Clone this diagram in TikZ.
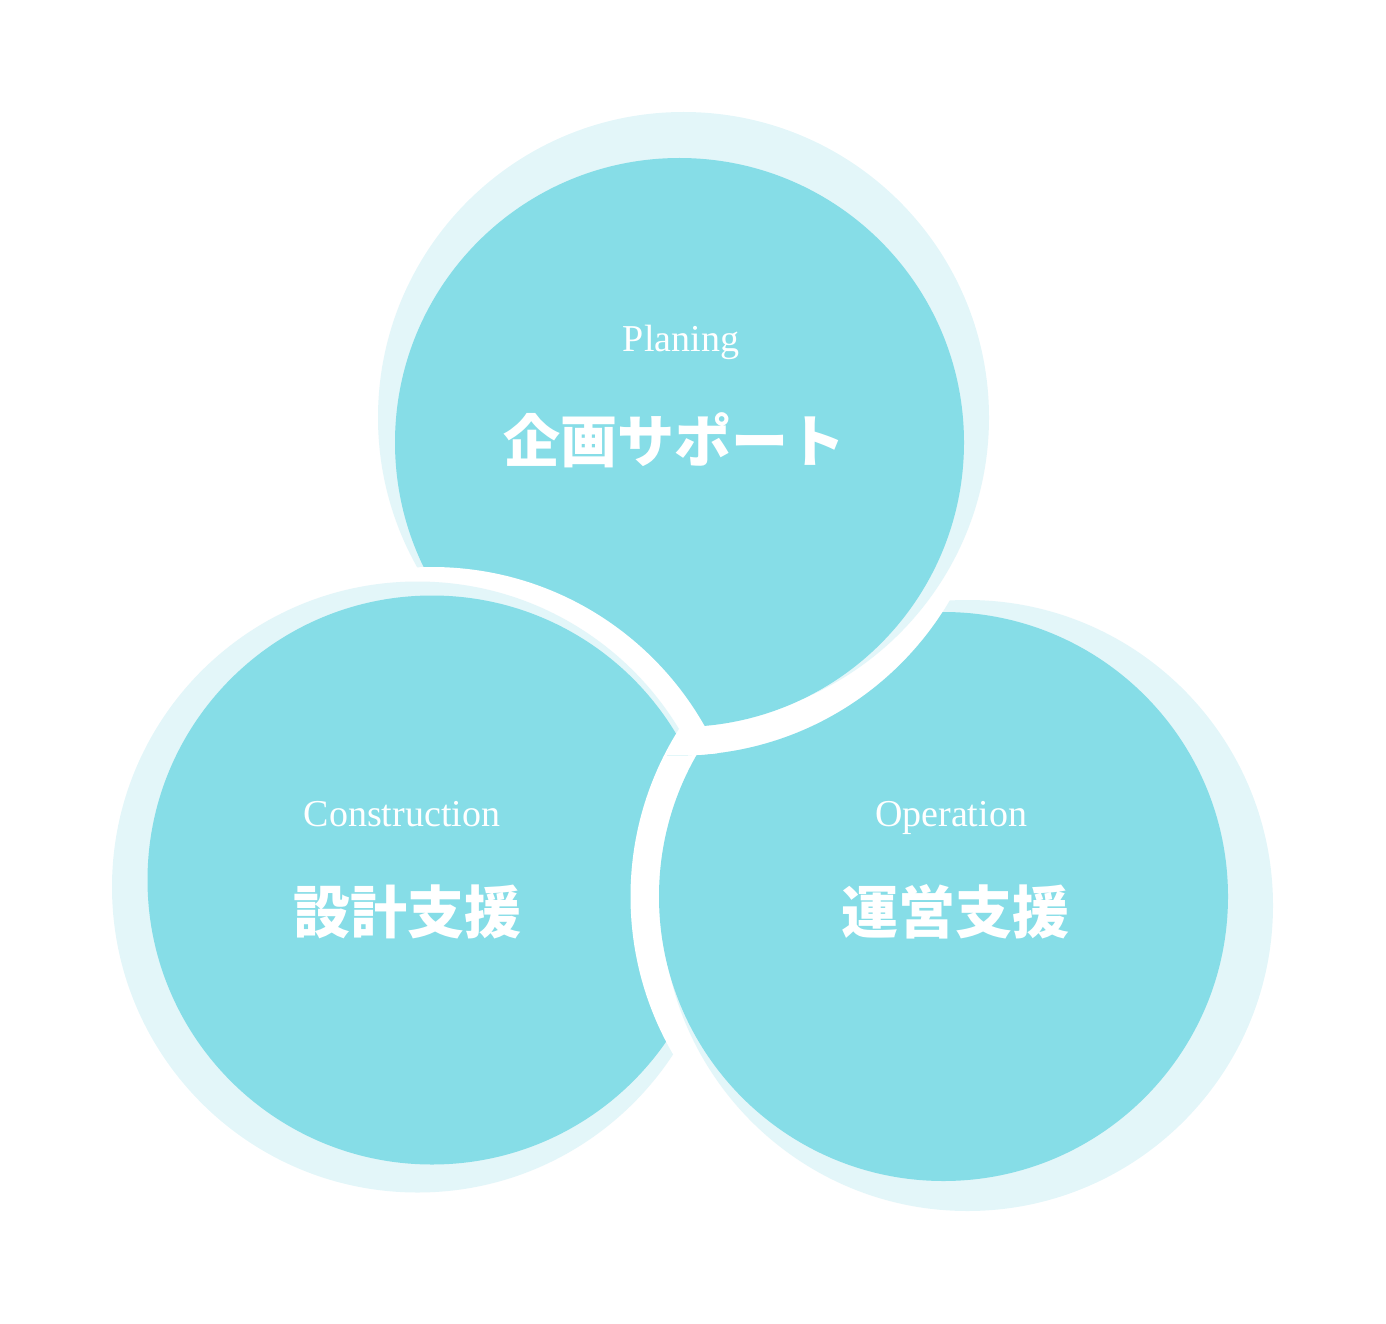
\documentclass[tikz,border=0pt]{standalone}
\usepackage{fontspec}
\setmainfont{Liberation Serif}
\newfontfamily\jpfont{Noto Sans CJK JP}
\usepackage{tikz}
\definecolor{bubblecyan}{RGB}{134,221,231}
\definecolor{halocyan}{RGB}{227,246,249}

% one bubble: white gap ring, pale halo, main disc
\newcommand{\bubble}[1]{%
  \fill[gap] (#1) circle[radius=313pt];
  \fill[halo] (#1halo) circle[radius=305.5pt];
  \fill[disc] (#1) circle[radius=284.5pt];
}

\begin{document}
\begin{tikzpicture}[x=1pt, y=-1pt,
    gap/.style={white},
    halo/.style={halocyan},
    disc/.style={bubblecyan},
    entext/.style={text=white, inner sep=0pt, anchor=base, font=\fontsize{38}{38}\selectfont},
    jptext/.style={text=white, inner sep=0pt, font=\jpfont\bfseries\fontsize{57}{57}\selectfont}]
  \useasboundingbox (0,0) rectangle (1386,1324);

  \coordinate (plan) at (679.5,442.5);
  \coordinate (planhalo) at (683.5,417.5);
  \coordinate (build) at (432,880);
  \coordinate (buildhalo) at (417.5,887);
  \coordinate (run) at (943.5,896.5);
  \coordinate (runhalo) at (967.5,905.5);

  \bubble{plan}
  \bubble{build}

  % the operation bubble goes under the planning one
  \begin{scope}[even odd rule]
    \clip (0,0) rectangle (1386,1324) (plan) circle[radius=313pt];
    \bubble{run}
  \end{scope}

  % gap of the operation bubble still cuts the construction one
  \begin{scope}
    \clip (run) circle[radius=313pt];
    \clip (build) circle[radius=313pt];
    \fill[gap, even odd rule] (plan) circle[radius=313pt] (plan) circle[radius=284.5pt];
  \end{scope}

  \node (planen) [entext] at (681,351) {Planing};
  \node (planjp) [jptext] at (674,440) {企画サポート};
  \node (builden) [entext] at (402,826) {Construction};
  \node (buildjp) [jptext] at (407,912) {設計支援};
  \node (runen) [entext] at (951,826) {Operation};
  \node (runjp) [jptext] at (955,912) {運営支援};
\end{tikzpicture}
\end{document}
